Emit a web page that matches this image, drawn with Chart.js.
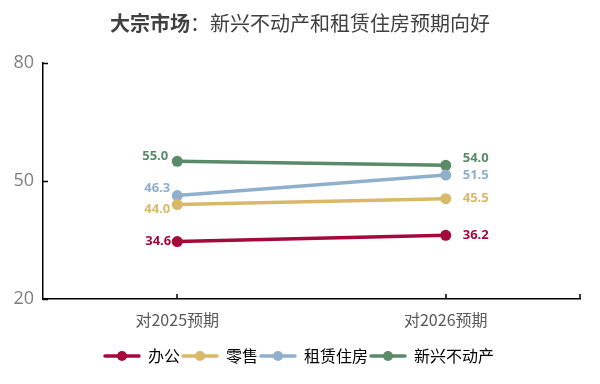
<!DOCTYPE html>
<html><head><meta charset="utf-8">
<script src="https://cdn.jsdelivr.net/npm/chart.js@4"></script>
<style>html,body{margin:0;padding:0;background:#fff}#wrap{width:600px;height:384px;position:relative}</style>
</head><body><div id="wrap"><canvas id="c" width="600" height="384"></canvas></div>
<script>
const categories = ['对2025预期', '对2026预期'];
const seriesNames = ['办公', '零售', '租赁住房', '新兴不动产'];
const office = [34.6, 36.2];
const retail = [44.0, 45.5];
const rental = [46.3, 51.5];
const emerging = [55.0, 54.0];
const yTicks = [20, 50, 80];
const titleBold = '大宗市场';
const titleRest = '：新兴不动产和租赁住房预期向好';

const colors = ['#A5093A', '#D9B86A', '#8FB0CC', '#5A8A68'];
// label offsets [dx, dy] per series per point (style only)
const labelOffsets = [
  [[-6, 0], [17, 0]],
  [[-7, 5], [17, 0]],
  [[-7, -7], [17, 0]],
  [[-9, -5], [17, -7]]
];
const FONT = '"Open Sans","Noto Sans CJK SC",sans-serif';
const CJK = '"Noto Sans CJK SC","Noto Sans",sans-serif';

function legendIcon(color) {
  const cv = document.createElement('canvas');
  cv.width = 38; cv.height = 12;
  const g = cv.getContext('2d');
  g.strokeStyle = color; g.lineWidth = 3.5; g.lineCap = 'round';
  g.beginPath(); g.moveTo(2, 6); g.lineTo(36, 6); g.stroke();
  g.fillStyle = color; g.beginPath(); g.arc(19, 6, 5, 0, Math.PI * 2); g.fill();
  return cv;
}

const allData = [office, retail, rental, emerging];
const datasets = allData.map((d, i) => ({
  label: seriesNames[i], data: d, borderColor: colors[i], backgroundColor: colors[i],
  borderWidth: 3.5, pointRadius: 5.5, pointHoverRadius: 5.5, pointBackgroundColor: colors[i],
  pointBorderWidth: 0, tension: 0, fill: false
}));

const decor = {
  id: 'decor',
  afterLayout(chart) {
    if (chart.legend) { chart.legend.left += 9; chart.legend.right += 9; }
  },
  afterDraw(chart) {
    const ctx = chart.ctx;
    const ca = chart.chartArea;
    ctx.save();
    ctx.textBaseline = 'middle';
    ctx.fillStyle = '#404040';
    ctx.font = 'bold 20px ' + CJK;
    const w1 = ctx.measureText(titleBold).width;
    ctx.font = '20px ' + CJK;
    const w2 = ctx.measureText(titleRest).width;
    let x0 = 300 - (w1 + w2) / 2;
    ctx.textAlign = 'left';
    ctx.font = 'bold 20px ' + CJK;
    ctx.fillText(titleBold, x0, 23);
    ctx.font = '20px ' + CJK;
    ctx.fillText(titleRest, x0 + w1, 23);
    ctx.strokeStyle = '#000'; ctx.lineWidth = 1.5;
    const ys = chart.scales.y, xs = chart.scales.x;
    yTicks.forEach(v => {
      const py = Math.round(ys.getPixelForValue(v)) + 0.5;
      ctx.beginPath(); ctx.moveTo(ca.left, py); ctx.lineTo(ca.left + 5, py); ctx.stroke();
    });
    categories.forEach((c, i) => {
      const px = Math.round(xs.getPixelForValue(i));
      ctx.beginPath(); ctx.moveTo(px, ca.bottom); ctx.lineTo(px, ca.bottom - 5); ctx.stroke();
    });
    ctx.beginPath(); ctx.moveTo(ca.right, ca.bottom); ctx.lineTo(ca.right, ca.bottom - 5); ctx.stroke();
    ctx.font = 'bold 13px ' + FONT;
    chart.data.datasets.forEach((ds, di) => {
      const meta = chart.getDatasetMeta(di);
      meta.data.forEach((pt, pi) => {
        const off = labelOffsets[di][pi];
        ctx.fillStyle = colors[di];
        ctx.textAlign = pi === 0 ? 'right' : 'left';
        ctx.fillText(ds.data[pi].toFixed(1), pt.x + off[0], pt.y + off[1]);
      });
    });
    ctx.restore();
  }
};

const chart = new Chart(document.getElementById('c'), {
  type: 'line',
  data: { labels: categories, datasets },
  options: {
    responsive: false, animation: false, devicePixelRatio: 1,
    layout: { padding: { left: 0, right: 20, top: 63, bottom: 10 } },
    plugins: {
      title: { display: false }, tooltip: { enabled: false },
      legend: {
        display: true, position: 'bottom',
        labels: {
          usePointStyle: true, pointStyleWidth: 36, boxHeight: 12,
          color: '#595959', font: { family: CJK, size: 16 }, padding: 2,
          generateLabels(chart) {
            return chart.data.datasets.map((ds, i) => ({
              text: ds.label, fillStyle: colors[i], strokeStyle: colors[i], lineWidth: 0,
              pointStyle: legendIcon(colors[i]), datasetIndex: i, hidden: false
            }));
          }
        }
      }
    },
    scales: {
      x: {
        offset: true,
        grid: { display: false, drawTicks: false },
        border: { display: true, color: '#000', width: 1.5 },
        ticks: { color: '#595959', font: { family: CJK, size: 16 }, padding: 11 },
        afterFit(s) { s.height = 47; }
      },
      y: {
        min: 20, max: 80,
        afterBuildTicks(s) { s.ticks = yTicks.map(v => ({ value: v })); },
        grid: { display: false, drawTicks: false },
        border: { display: true, color: '#000', width: 1.5 },
        ticks: { color: '#7F7F7F', font: { family: FONT, size: 18 }, padding: 9 },
        afterFit(s) { s.width = 43; }
      }
    }
  },
  plugins: [decor]
});
</script></body></html>
